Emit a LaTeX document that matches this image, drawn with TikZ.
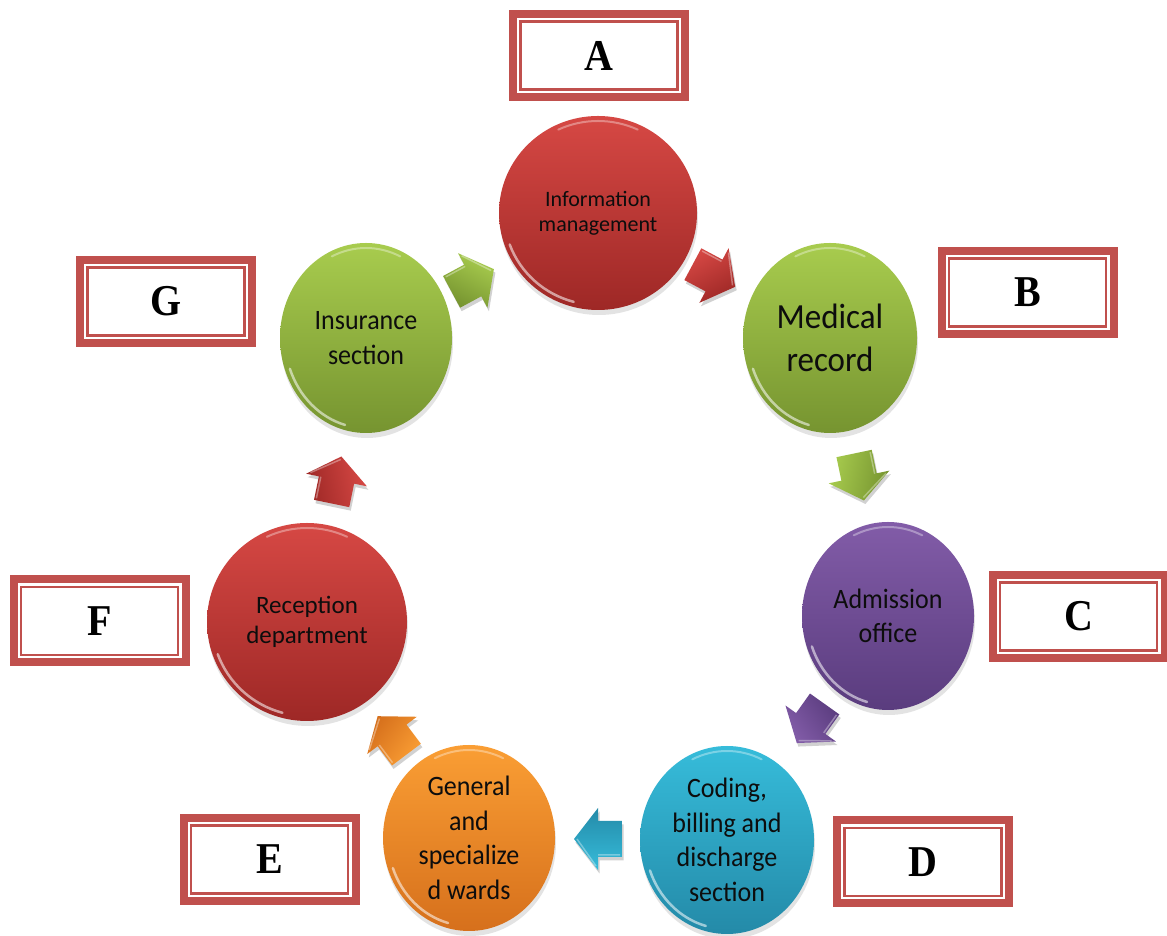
\documentclass[tikz,border=0pt]{standalone}
\usepackage{fontspec}
\setmainfont{Carlito}
\newfontfamily\lettfont{Liberation Serif}
\usetikzlibrary{shapes.geometric,shadows,calc}
\definecolor{redL}{RGB}{214,72,68}
\definecolor{redD}{RGB}{158,40,38}
\definecolor{greenL}{RGB}{168,204,78}
\definecolor{greenD}{RGB}{118,148,48}
\definecolor{purpleL}{RGB}{130,92,168}
\definecolor{purpleD}{RGB}{90,60,126}
\definecolor{cyanL}{RGB}{54,188,218}
\definecolor{cyanD}{RGB}{36,138,168}
\definecolor{orangeL}{RGB}{250,158,52}
\definecolor{orangeD}{RGB}{214,112,28}
\definecolor{boxred}{RGB}{192,80,77}
\tikzset{
  bub/.style={ellipse, inner sep=0pt, draw=none,
    drop shadow={shadow xshift=1pt, shadow yshift=-5pt, opacity=.22}},
  bubtext/.style={align=center, text=black!95, inner sep=0pt},
  labbox/.style={rectangle, draw=boxred, line width=8pt, fill=white,
    minimum width=172pt, minimum height=83pt, inner sep=0pt, outer sep=4pt,
    font=\lettfont\bfseries\fontsize{40}{40}\selectfont},
  innerline/.style={draw=boxred, line width=2.5pt},
  arrshadow/.style={fill=black, opacity=.18},
  rim/.style={white, opacity=.55, line width=2.5pt, line cap=round},
  toprim/.style={white, opacity=.35, line width=2pt, line cap=round}
}
\newcommand{\bubble}[9]{%
  \node[bub, minimum width=#4*2pt, minimum height=#5*2pt, top color=#6L, bottom color=#6D] (#1) at (#2,#3) {};
  \pgfmathsetmacro\hrx{#4-5}\pgfmathsetmacro\hry{#5-5}
  \draw[rim] ([shift={(200:\hrx pt and \hry pt)}]#1.center) arc[start angle=200, end angle=255, x radius=\hrx pt, y radius=\hry pt];
  \draw[toprim] ([shift={(65:\hrx pt and \hry pt)}]#1.center) arc[start angle=65, end angle=115, x radius=\hrx pt, y radius=\hry pt];
  \node[bubtext, yscale=#8, font=\fontsize#7\selectfont] (#1t) at (#1.center) {#9};
}
% block arrow between two bubbles: #1 from, #2 to, #3 fraction, #4 angle, #5 colour, #6 name
\newcommand{\flowarrow}[6]{%
  \coordinate (#6) at ($(#1)!#3!(#2)$);
  \fill[arrshadow, shift={($(#6)+(1.5,-3.5)$)}, rotate=#4]
    (-24,-18) -- (0,-18) -- (0,-31) -- (24,0) -- (0,31) -- (0,18) -- (-24,18) -- cycle;
  \shade[shift={(#6)}, rotate=#4, top color=#5L, bottom color=#5D, shading angle=-#4]
    (-24,-18) -- (0,-18) -- (0,-31) -- (24,0) -- (0,31) -- (0,18) -- (-24,18) -- cycle;
  \draw[shift={(#6)}, rotate=#4, white, opacity=.35, line width=1.5pt, line join=round]
    (-22,16) -- (0,16) (2,27) -- (21,0);
}
\newcommand{\labelbox}[4]{%
  \node[labbox] (#1) at (#2,#3) {\scalebox{1}[1.1]{#4}};
  \draw[innerline] ([shift={(11.3pt,11.3pt)}]#1.south west) rectangle ([shift={(-11.3pt,-11.3pt)}]#1.north east);
}
\begin{document}
\begin{tikzpicture}[x=1pt,y=1pt]
\useasboundingbox (0,0) rectangle (1167,936);
\fill[white] (0,0) rectangle (1167,936);

% bubbles
\bubble{A}{598}{723}{99}{97}{red}{{22}{25}}{1}{Information\\management}
\bubble{B}{830}{598}{87}{95}{green}{{33}{40}}{1.07}{Medical\\record}
\bubble{C}{888}{320}{86}{94}{purple}{{26}{32}}{1.08}{Admission\\office}
\bubble{D}{727}{96}{87}{94}{cyan}{{26}{32}}{1.08}{Coding,\\billing and\\discharge\\section}
\bubble{E}{469}{98}{86}{93}{orange}{{26}{32}}{1.08}{General\\and\\specialize\\d wards}
\bubble{F}{307}{314}{100}{99}{red}{{25}{30}}{1}{Reception\\department}
\bubble{G}{366}{598}{86}{95}{green}{{26}{32}}{1.08}{Insurance\\section}

% arrows
\flowarrow{G}{A}{0.46}{28.3}{green}{aGA}
\flowarrow{A}{B}{0.5}{-28.1}{red}{aAB}
\flowarrow{B}{C}{0.5}{-78.2}{green}{aBC}
\flowarrow{C}{D}{0.48}{-125.5}{purple}{aCD}
\flowarrow{D}{E}{0.5}{180}{cyan}{aDE}
\flowarrow{E}{F}{0.475}{126.9}{orange}{aEF}
\flowarrow{F}{G}{0.5}{78.3}{red}{aFG}

% label boxes
\labelbox{LA}{599}{880.5}{A}
\labelbox{LB}{1027.5}{643.5}{B}
\labelbox{LC}{1078.5}{319.5}{C}
\labelbox{LD}{923}{74}{D}
\labelbox{LE}{269.5}{76.5}{E}
\labelbox{LF}{99.5}{315}{F}
\labelbox{LG}{166}{634.5}{G}
\end{tikzpicture}
\end{document}
